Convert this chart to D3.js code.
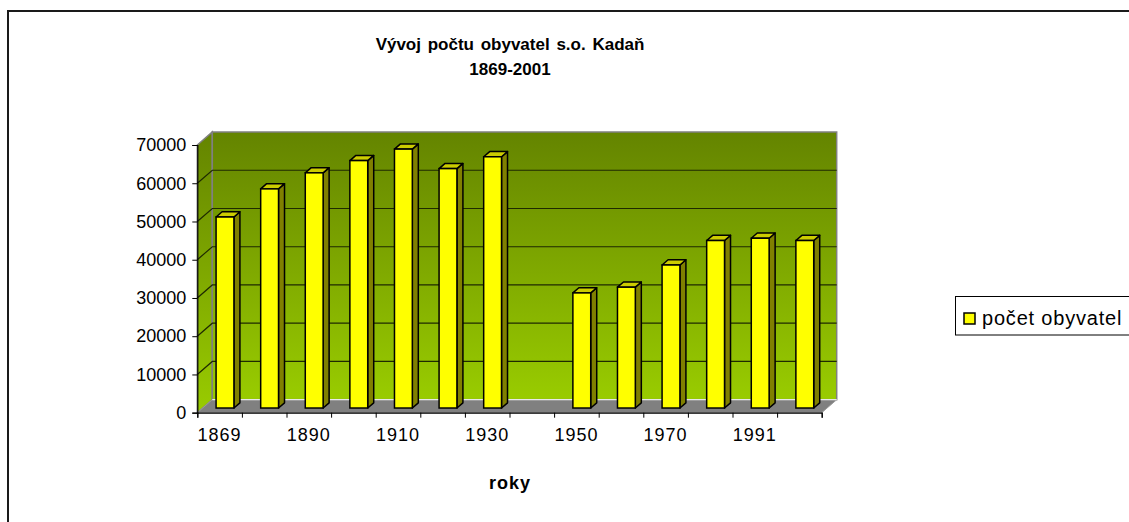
<!DOCTYPE html>
<html lang="cs">
<head>
    <meta charset="UTF-8">
    <title>Vývoj počtu obyvatel s.o. Kadaň</title>
    <script src="https://d3js.org/d3.v7.min.js"></script>
    <style>
        body {
            margin: 0;
            background: #fff;
            font-family: "Liberation Sans", Arial, sans-serif;
        }
        svg text {
            fill: #000;
        }
    </style>
</head>
<body>
    <svg id="chart" width="1129" height="522"></svg>
    <script>
        // data
        const years = ['1869', '1880', '1890', '1900', '1910', '1921', '1930', '1939',
                       '1950', '1961', '1970', '1980', '1991', '2001'];
        const population = [49950, 57300, 61500, 64700, 67700, 62600, 65700, null,
                            30100, 31600, 37400, 43800, 44400, 43800];
        const yTicks = [0, 10000, 20000, 30000, 40000, 50000, 60000, 70000];
        const shownYears = ['1869', '1890', '1910', '1930', '1950', '1970', '1991'];
        const titleLines = ['Vývoj počtu obyvatel s.o. Kadaň', '1869-2001'];
        const xTitle = 'roky';
        const seriesName = 'počet obyvatel';

        const svg = d3.select('#chart');

        // plot area (front plane) and 3d depth offset
        const plotLeft = 197.3, plotRight = 821.7, plotBottom = 412.7, plotTop = 145;
        const depth = { dx: 15, dy: -13 };
        const barFront = 0.36, barBack = 0.76;

        const x = d3.scaleBand().domain(years).range([plotLeft, plotRight]).padding(0);
        const xEdge = d3.scaleLinear().domain([0, years.length]).range([plotLeft, plotRight]);
        const y = d3.scaleLinear().domain([0, 70000]).range([plotBottom, plotTop]);

        // outer frame
        svg.append('rect')
            .attr('x', 8).attr('y', 11)
            .attr('width', 1140).attr('height', 530)
            .attr('fill', '#fff')
            .attr('stroke', '#1a1a1a')
            .attr('stroke-width', 2);

        const defs = svg.append('defs');
        const grad = defs.append('linearGradient')
            .attr('id', 'wall')
            .attr('x1', 0).attr('y1', 0).attr('x2', 0).attr('y2', 1);
        grad.append('stop').attr('offset', '0%').attr('stop-color', '#648400');
        grad.append('stop').attr('offset', '100%').attr('stop-color', '#99cc00');

        const yTop = y(70000), yBot = y(0);

        // side wall
        svg.append('polygon')
            .attr('points', [
                [plotLeft, yBot], [plotLeft + depth.dx, yBot + depth.dy],
                [plotLeft + depth.dx, yTop + depth.dy], [plotLeft, yTop]
            ].join(' '))
            .attr('fill', 'url(#wall)')
            .attr('stroke', '#808080')
            .attr('stroke-width', 1.5);

        // back wall
        svg.append('rect')
            .attr('x', plotLeft + depth.dx)
            .attr('y', yTop + depth.dy)
            .attr('width', plotRight - plotLeft)
            .attr('height', yBot - yTop)
            .attr('fill', 'url(#wall)')
            .attr('stroke', '#808080')
            .attr('stroke-width', 1.5);

        // gridlines on side + back wall
        const grid = svg.append('g');
        yTicks.filter(v => v > 0 && v < 70000).forEach(v => {
            grid.append('polyline')
                .attr('points', [
                    [plotLeft, y(v)], [plotLeft + depth.dx, y(v) + depth.dy],
                    [plotRight + depth.dx, y(v) + depth.dy]
                ].join(' '))
                .attr('fill', 'none')
                .attr('stroke', '#1f2a00')
                .attr('stroke-width', 1.2);
        });

        // floor
        svg.append('polygon')
            .attr('points', [
                [plotLeft, yBot], [plotRight, yBot],
                [plotRight + depth.dx, yBot + depth.dy], [plotLeft + depth.dx, yBot + depth.dy]
            ].join(' '))
            .attr('fill', '#808080')
            .attr('stroke', '#9a9a9a')
            .attr('stroke-width', 1);
        svg.append('line')
            .attr('x1', plotLeft + depth.dx).attr('x2', plotRight + depth.dx)
            .attr('y1', yBot + depth.dy).attr('y2', yBot + depth.dy)
            .attr('stroke', '#e8e8e8')
            .attr('stroke-width', 1.2);

        // bars
        const barW = x.bandwidth() * 0.4;
        const bdx = (barBack - barFront) * depth.dx;
        const bdy = (barBack - barFront) * depth.dy;
        const bars = svg.append('g')
            .selectAll('g')
            .data(years.map((yr, i) => ({ yr, v: population[i] })).filter(d => d.v != null))
            .join('g');

        const fx = d => x(d.yr) + x.bandwidth() / 2 - barW / 2 + barFront * depth.dx;
        const fy0 = barFront * depth.dy;

        bars.append('polygon') // side
            .attr('points', d => {
                const x1 = fx(d) + barW, yb = y(0) + fy0, yt = y(d.v) + fy0;
                return [[x1, yb], [x1 + bdx, yb + bdy], [x1 + bdx, yt + bdy], [x1, yt]].join(' ');
            })
            .attr('fill', '#808000')
            .attr('stroke', '#000')
            .attr('stroke-width', 1.5)
            .attr('stroke-linejoin', 'round');

        bars.append('polygon') // top
            .attr('points', d => {
                const x0 = fx(d), yt = y(d.v) + fy0;
                return [[x0, yt], [x0 + bdx, yt + bdy], [x0 + barW + bdx, yt + bdy], [x0 + barW, yt]].join(' ');
            })
            .attr('fill', '#cccc00')
            .attr('stroke', '#000')
            .attr('stroke-width', 1.5)
            .attr('stroke-linejoin', 'round');

        bars.append('rect') // front
            .attr('x', fx)
            .attr('y', d => y(d.v) + fy0)
            .attr('width', barW)
            .attr('height', d => y(0) - y(d.v))
            .attr('fill', '#ffff00')
            .attr('stroke', '#000')
            .attr('stroke-width', 1.5);

        // y axis
        const yAxis = svg.append('g')
            .attr('transform', `translate(${plotLeft},0)`)
            .call(d3.axisLeft(y).tickValues(yTicks).tickSize(5).tickPadding(6).tickFormat(d3.format('d')));
        yAxis.selectAll('text')
            .style('font-family', '"Liberation Sans", Arial, sans-serif')
            .style('font-size', '18px');

        // x axis: tick marks at category edges
        svg.append('g')
            .attr('transform', `translate(0,${plotBottom})`)
            .call(d3.axisBottom(xEdge).tickValues(d3.range(years.length + 1)).tickSize(5).tickFormat(''));

        // x axis labels (every other category)
        const xAxis = svg.append('g')
            .attr('transform', `translate(0,${plotBottom})`)
            .call(d3.axisBottom(x).tickSize(0).tickPadding(16).tickFormat(d => shownYears.includes(d) ? d : ''));
        xAxis.select('.domain').remove();
        xAxis.selectAll('text')
            .style('font-family', '"Liberation Sans", Arial, sans-serif')
            .style('font-size', '18px')
            .style('letter-spacing', '1px');

        svg.selectAll('.domain').attr('stroke', '#000').attr('stroke-width', 1.2);
        svg.selectAll('.tick line').attr('stroke', '#000');

        // titles
        svg.append('g')
            .selectAll('text')
            .data(titleLines)
            .join('text')
            .attr('x', 510)
            .attr('y', (d, i) => 50 + i * 25)
            .attr('text-anchor', 'middle')
            .style('font-size', '17px')
            .style('font-weight', 'bold')
            .style('word-spacing', '2px')
            .text(d => d);

        svg.append('text')
            .attr('x', 510)
            .attr('y', 489)
            .attr('text-anchor', 'middle')
            .style('font-size', '18px')
            .style('font-weight', 'bold')
            .style('letter-spacing', '1px')
            .text(xTitle);

        // legend
        const legend = svg.append('g');
        legend.append('rect')
            .attr('x', 955.5).attr('y', 296.5)
            .attr('width', 200).attr('height', 38.5)
            .attr('fill', '#fff')
            .attr('stroke', '#000')
            .attr('stroke-width', 1);
        legend.append('rect')
            .attr('x', 964).attr('y', 313)
            .attr('width', 11).attr('height', 11)
            .attr('fill', '#ffff00')
            .attr('stroke', '#000')
            .attr('stroke-width', 1.5);
        legend.append('text')
            .attr('x', 982)
            .attr('y', 325)
            .style('font-size', '20px')
            .style('letter-spacing', '0.8px')
            .text(seriesName);
    </script>
</body>
</html>
